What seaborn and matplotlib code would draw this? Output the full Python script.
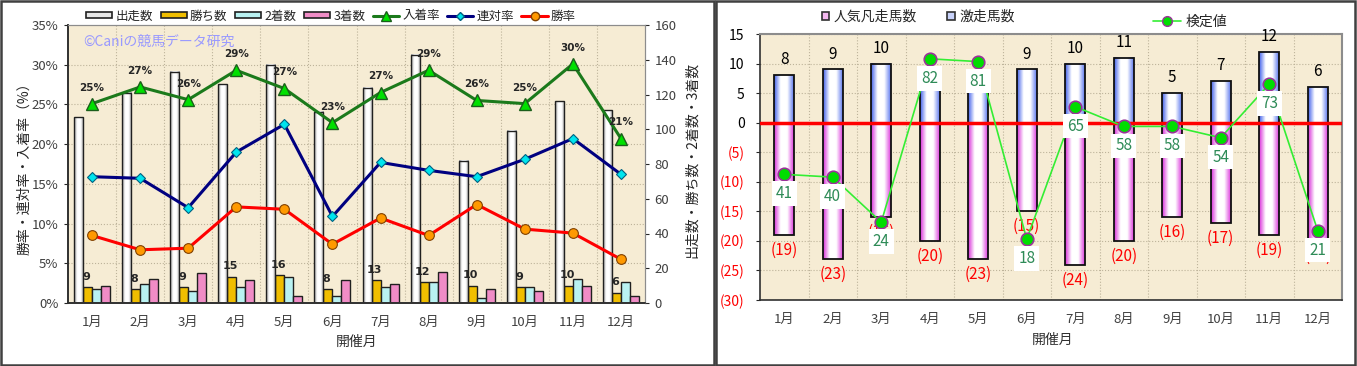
import numpy as np
import pandas as pd
import matplotlib
matplotlib.use('Agg')
import matplotlib.pyplot as plt
import seaborn as sns
from matplotlib.colors import LinearSegmentedColormap
from matplotlib.patches import Patch, Rectangle
from matplotlib.lines import Line2D

# ==========================================
# DATA
# ==========================================

months = ['1月', '2月', '3月', '4月', '5月', '6月',
          '7月', '8月', '9月', '10月', '11月', '12月']

# left chart (counts)
runners = [107, 121, 133, 126, 137, 110, 124, 143, 82, 99, 116, 111]
wins = [9, 8, 9, 15, 16, 8, 13, 12, 10, 9, 10, 6]
seconds = [8, 11, 7, 9, 15, 4, 9, 12, 3, 9, 14, 12]
thirds = [10, 14, 17, 13, 4, 13, 11, 18, 8, 7, 10, 4]

# left chart (rates, %)
place_rate = [25.1, 27.2, 25.6, 29.3, 27.0, 22.7, 26.5, 29.3, 25.5, 25.1, 30.1, 20.7]
place_labels = [25, 27, 26, 29, 27, 23, 27, 29, 26, 25, 30, 21]
quinella_rate = [15.9, 15.7, 12.0, 19.0, 22.5, 10.9, 17.7, 16.7, 15.9, 18.1, 20.7, 16.2]
win_rate = [8.5, 6.7, 6.9, 12.1, 11.8, 7.4, 10.7, 8.5, 12.4, 9.3, 8.8, 5.5]

# right chart
surge = [8, 9, 10, 7, 6, 9, 10, 11, 5, 7, 12, 6]
flop = [19, 23, 16, 20, 23, 15, 24, 20, 16, 17, 19, 20]
test_value = [41, 40, 24, 82, 81, 18, 65, 58, 58, 54, 73, 21]

kinds = ['出走数', '勝ち数', '2着数', '3着数']
kind_colors = ['#E6E6E6', '#F0BE00', '#B9F2F2', '#F08CC6']

# ==========================================
# STYLE
# ==========================================

sns.set_style('white')
plt.rcParams['font.family'] = ['Noto Sans CJK JP', 'DejaVu Sans']

BG = '#F6ECD4'
GRID = '#BDB39A'
W, H = 1357, 366


def fill_gradient(ax, patch, colors):
    # horizontal gradient inside a bar, edge kept on top
    cmap = LinearSegmentedColormap.from_list('bar', colors)
    x0, w = patch.get_x(), patch.get_width()
    y0, h = patch.get_y(), patch.get_height()
    ax.imshow(np.linspace(0, 1, 100).reshape(1, -1), cmap=cmap, aspect='auto',
              extent=[x0, x0 + w, min(y0, y0 + h), max(y0, y0 + h)],
              interpolation='bilinear', zorder=1.2)
    patch.set_facecolor('none')
    patch.set_zorder(1.4)


fig = plt.figure(figsize=(W / 100, H / 100), dpi=100)

# ==========================================
# LEFT CHART
# ==========================================

ax = fig.add_axes([68 / W, 1 - 303 / H, 577 / W, 278 / H])
ax_r = ax.twinx()

df_left = pd.DataFrame({
    '月': months * 4,
    '種別': [k for k in kinds for _ in months],
    '頭数': runners + wins + seconds + thirds,
})

sns.barplot(data=df_left, x='月', y='頭数', hue='種別', hue_order=kinds,
            palette=kind_colors, width=0.75, saturation=1,
            edgecolor='#202020', linewidth=1, legend=False, ax=ax)

for p in ax.containers[0]:
    fill_gradient(ax, p, ['#9A9A9A', '#FFFFFF', '#FFFFFF', '#9A9A9A'])

for p, w in zip(ax.containers[1], wins):
    ax.annotate(str(w), (p.get_x() + p.get_width() / 2, p.get_height()),
                xytext=(-1, 4), textcoords='offset points', ha='center',
                va='bottom', fontsize=8, fontweight='bold', family='DejaVu Sans')

xs = np.arange(len(months))
sns.lineplot(x=xs, y=place_rate, ax=ax_r, color='#1B7A1B', linewidth=2.2,
             marker='^', markersize=9, markerfacecolor='#00E000',
             markeredgecolor='#1B5E1B', markeredgewidth=1)
sns.lineplot(x=xs, y=quinella_rate, ax=ax_r, color='#000080', linewidth=2.2,
             marker='D', markersize=5.5, markerfacecolor='#00E5EE',
             markeredgecolor='#006080', markeredgewidth=0.8)
sns.lineplot(x=xs, y=win_rate, ax=ax_r, color='#FF0000', linewidth=2.2,
             marker='o', markersize=7, markerfacecolor='#FF9900',
             markeredgecolor='#804000', markeredgewidth=0.8)

for xi, yi, lab in zip(xs, place_rate, place_labels):
    ax_r.annotate(f'{lab}%', (xi, yi), xytext=(0, 8), textcoords='offset points',
                  ha='center', va='bottom', fontsize=7.5, fontweight='bold',
                  family='DejaVu Sans')

ax.set_ylim(0, 160)
ax_r.set_ylim(0, 35)
ax.set_xlim(-0.5, 11.5)
ax_r.set_xlim(-0.5, 11.5)

ax.set_yticks(range(0, 161, 20))
ax_r.set_yticks(range(0, 36, 5))
ax_r.set_yticklabels([f'{t}%' for t in range(0, 36, 5)])
ax.yaxis.tick_right()
ax_r.yaxis.tick_left()

ax.set_yticks(np.arange(1, 7) * 160 / 7, minor=True)
ax.set_xticks(np.arange(0.5, 11, 1), minor=True)
ax.grid(which='minor', color=GRID, linestyle=':', linewidth=0.8)
ax.set_axisbelow(True)
ax.set_facecolor(BG)

ax.tick_params(which='minor', length=0)
ax.tick_params(axis='x', length=0, pad=9, labelsize=9.5, labelcolor='#404040')
ax.tick_params(axis='y', length=3, pad=4, labelsize=9.5, labelcolor='#404040',
               right=True, left=False)
ax_r.tick_params(axis='y', length=3, pad=4, labelsize=9.5, labelcolor='#404040',
                 left=True, right=False)
ax.set_xlabel('')
ax.set_ylabel('')
ax_r.set_ylabel('')

for a in (ax, ax_r):
    for side in ('top', 'right'):
        a.spines[side].set_color('#8C8C8C')
    for side in ('left', 'bottom'):
        a.spines[side].set_color('#303030')
        a.spines[side].set_linewidth(1.2)

ax.text(0.026, 0.94, '©Caniの競馬データ研究', transform=ax.transAxes,
        color='#9999FF', fontsize=10, va='center', ha='left')

left_handles = [Patch(facecolor=c, edgecolor='#202020', linewidth=1.2)
                for c in kind_colors]
left_handles += [
    Line2D([], [], color='#1B7A1B', lw=2.2, marker='^', markersize=7,
           markerfacecolor='#00E000', markeredgecolor='#1B5E1B'),
    Line2D([], [], color='#000080', lw=2.2, marker='D', markersize=4.5,
           markerfacecolor='#00E5EE', markeredgecolor='#006080'),
    Line2D([], [], color='#FF0000', lw=2.2, marker='o', markersize=6,
           markerfacecolor='#FF9900', markeredgecolor='#804000'),
]
fig.legend(left_handles, kinds + ['入着率', '連対率', '勝率'], loc='center',
           bbox_to_anchor=(331 / W, 1 - 16 / H), ncol=7, frameon=False,
           fontsize=9, handlelength=2.1, handleheight=0.45,
           handletextpad=0.25, columnspacing=0.6)

fig.text(24 / W, 1 - 165 / H, '勝率・連対率・入着率（%）', rotation=90,
         ha='center', va='center', fontsize=10)
fig.text(692 / W, 1 - 160 / H, '出走数・勝ち数・2着数・3着数', rotation=90,
         ha='center', va='center', fontsize=10)
fig.text(357 / W, 1 - 342 / H, '開催月', ha='center', va='center',
         fontsize=10, color='#303030')

# ==========================================
# RIGHT CHART
# ==========================================

ax2 = fig.add_axes([760 / W, 1 - 300 / H, 582 / W, 266 / H])

sns.barplot(x=months, y=surge, color='#4A6CF0', width=0.41, saturation=1,
            edgecolor='#101010', linewidth=1.3, ax=ax2)
sns.barplot(x=months, y=[-f for f in flop], color='#E23CE2', width=0.41,
            saturation=1, edgecolor='#101010', linewidth=1.3, ax=ax2)

for p in ax2.containers[0]:
    fill_gradient(ax2, p, ['#3F5FEA', '#FFFFFF', '#FFFFFF', '#5C78EE'])
for p in ax2.containers[1]:
    fill_gradient(ax2, p, ['#D82CD8', '#FFFFFF', '#FFFFFF', '#DC3CDC'])

for p, s in zip(ax2.containers[0], surge):
    ax2.annotate(str(s), (p.get_x() + p.get_width() / 2, s), xytext=(0, 5),
                 textcoords='offset points', ha='center', va='bottom',
                 fontsize=11, color='black')
for p, f in zip(ax2.containers[1], flop):
    ax2.annotate(f'({f})', (p.get_x() + p.get_width() / 2, -f), xytext=(0, -5),
                 textcoords='offset points', ha='center', va='top',
                 fontsize=11, color='#FF0000')

ax2.axhline(0, color='#FF0000', linewidth=2.5, zorder=3)

ax2t = ax2.twinx()
sns.lineplot(x=xs, y=test_value, ax=ax2t, color='#33EE33', linewidth=1.2,
             marker='o', markersize=9, markerfacecolor='#00DD00',
             markeredgecolor='#993399', markeredgewidth=1.2)
for xi, v in zip(xs, test_value):
    ax2t.annotate(str(v), (xi, v), xytext=(0, -14), textcoords='offset points',
                  ha='center', va='center', fontsize=11, color='#2E8B57',
                  bbox=dict(boxstyle='square,pad=0.25', fc='white', ec='none'))
ax2t.set_ylim(-3.6, 90.8)
ax2t.set_xlim(-0.5, 11.5)
ax2t.set_axis_off()

ax2.set_xlim(-0.5, 11.5)
ax2.set_ylim(-30, 15)
yt = list(range(-30, 16, 5))
ax2.set_yticks(yt)
ax2.set_yticklabels([f'({abs(t)})' if t < 0 else str(t) for t in yt])
for lab, t in zip(ax2.get_yticklabels(), yt):
    lab.set_color('#FF0000' if t < 0 else 'black')
ax2.set_xticks(np.arange(0.5, 11, 1), minor=True)
ax2.grid(which='both', color=GRID, linestyle=':', linewidth=0.8)
ax2.grid(which='major', axis='x', visible=False)
ax2.set_axisbelow(True)
ax2.set_facecolor(BG)
ax2.tick_params(which='minor', length=0)
ax2.tick_params(axis='x', length=0, pad=9, labelsize=9.5, labelcolor='#404040')
ax2.tick_params(axis='y', length=3, pad=8, labelsize=10, left=True)
ax2.set_xlabel('')
ax2.set_ylabel('')
for side in ('top', 'right'):
    ax2.spines[side].set_color('#8C8C8C')
    ax2.spines[side].set_linewidth(1.5)
for side in ('left', 'bottom'):
    ax2.spines[side].set_color('#303030')
    ax2.spines[side].set_linewidth(1.2)

fig.legend([Patch(facecolor='#F5B8F0', edgecolor='#303030', linewidth=1.2),
            Patch(facecolor='#C8D2FA', edgecolor='#303030', linewidth=1.2)],
           ['人気凡走馬数', '激走馬数'], loc='center',
           bbox_to_anchor=(918 / W, 1 - 17 / H), ncol=2, frameon=False,
           fontsize=10, handlelength=0.55, handleheight=0.55,
           handletextpad=0.3, columnspacing=2.2)
fig.legend([Line2D([], [], color='#33EE33', lw=1.2, marker='o', markersize=7,
                   markerfacecolor='#00DD00', markeredgecolor='#993399')],
           ['検定値'], loc='center', bbox_to_anchor=(1190 / W, 1 - 22 / H),
           frameon=False, fontsize=10, handlelength=2.0, handletextpad=0.3)

fig.text(1053 / W, 1 - 340 / H, '開催月', ha='center', va='center',
         fontsize=10, color='#303030')

# panel frames
fig.add_artist(Rectangle((1 / W, 1 / H), 713 / W, 364 / H, transform=fig.transFigure,
                         fill=False, edgecolor='#404040', linewidth=1.8))
fig.add_artist(Rectangle((716 / W, 1 / H), 639 / W, 364 / H, transform=fig.transFigure,
                         fill=False, edgecolor='#404040', linewidth=1.8))

fig.savefig('out.png', dpi=100, facecolor='white')
